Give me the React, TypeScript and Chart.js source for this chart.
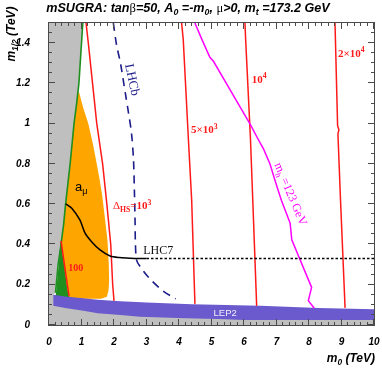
import React, { useEffect, useRef } from 'react';
import { Chart, registerables } from 'chart.js';

Chart.register(...registerables);

// ---------- axis tick labels ----------
const xTickLabels = ['0', '1', '2', '3', '4', '5', '6', '7', '8', '9', '10'];
const yTickLabels = ['0', '0.2', '0.4', '0.6', '0.8', '1', '1.2', '1.4'];

// ---------- regions (m0 in TeV, m1/2 in TeV) ----------
// boundary of the theoretically excluded (gray) region / green strip
const lspBoundaryM0 = [0.2, 0.28, 0.37, 0.45, 0.51, 0.58, 0.65, 0.71, 0.77, 0.85, 0.92, 0.98, 1.04];
const lspBoundaryM12 = [0.16, 0.3, 0.4, 0.5, 0.6, 0.7, 0.8, 0.9, 1.0, 1.1, 1.2, 1.35, 1.5];
// lower gray strip (below LEP2 band)
const grayBottomM0 = [0, 10, 10, 8, 6, 5.2, 4.2, 2.8, 2.2, 1.5, 1.06, 0.5, 0.13, 0.13];
const grayBottomM12 = [0, 0, 0.035, 0.035, 0.035, 0.04, 0.043, 0.05, 0.06, 0.068, 0.08, 0.095, 0.1, 0.15];
// LEP2 excluded band
const lep2M0 = [0.13, 0.5, 1.06, 1.5, 2.2, 3.0, 4.4, 6.5, 8.3, 10, 10, 6.0, 5.2, 4.2, 2.8, 2.2, 1.5, 1.06, 0.5, 0.13];
const lep2M12 = [0.15, 0.142, 0.133, 0.126, 0.118, 0.112, 0.103, 0.095, 0.085, 0.078, 0.025, 0.025, 0.03, 0.033, 0.041, 0.05, 0.058, 0.071, 0.085, 0.095];
// a_mu favoured region (orange)
const amuM0 = [0.92, 1.05, 1.21, 1.35, 1.47, 1.56, 1.64, 1.72, 1.8, 1.84, 1.85, 1.83, 1.78, 1.6, 0.6, 0.3, 0.5, 0.7, 0.92];
const amuM12 = [1.16, 1.08, 1.0, 0.9, 0.8, 0.72, 0.64, 0.53, 0.42, 0.3, 0.22, 0.17, 0.14, 0.13, 0.13, 0.4, 0.8, 1.1, 1.16];
// green wedge
const greenM0 = [0.36, 0.42, 0.5, 0.57, 0.63, 0.2, 0.25, 0.3, 0.36];
const greenM12 = [0.42, 0.35, 0.25, 0.17, 0.135, 0.135, 0.22, 0.3, 0.42];

// ---------- contours ----------
const dhs100M0 = [0.37, 0.49, 0.615];
const dhs100M12 = [0.418, 0.282, 0.144];
const dhs1kM0 = [1.14, 1.21, 1.34, 1.47, 1.65, 1.78, 1.9, 1.96, 2.0];
const dhs1kM12 = [1.5, 1.4, 1.2, 1.0, 0.8, 0.6, 0.4, 0.2, 0.12];
const dhs5kM0 = [4.08, 4.13, 4.29, 4.39, 4.49];
const dhs5kM12 = [1.5, 1.42, 0.92, 0.62, 0.105];
const dhs10kM0 = [6.03, 6.05, 6.2, 6.27, 6.39];
const dhs10kM12 = [1.5, 1.42, 0.92, 0.62, 0.095];
const dhs20kM0 = [8.8, 8.88, 8.92, 8.89, 8.97, 9.11];
const dhs20kM12 = [1.5, 0.99, 0.97, 0.95, 0.62, 0.085];

const mhM0 = [4.49, 4.7, 4.95, 5.06, 5.6, 6.18, 6.41, 6.6, 6.8, 6.95, 7.15, 7.42, 7.47, 8.08, 7.98, 8.16];
const mhM12 = [1.5, 1.42, 1.33, 1.31, 1.16, 1.0, 0.93, 0.875, 0.8, 0.72, 0.62, 0.506, 0.423, 0.187, 0.121, 0.083];

const lhcbM0 = [1.98, 2.08, 2.2, 2.35, 2.44, 2.54, 2.6, 2.63, 2.65, 2.66, 2.7, 2.85, 3.1, 3.5, 3.9];
const lhcbM12 = [1.5, 1.39, 1.3, 1.15, 1.06, 0.95, 0.82, 0.65, 0.5, 0.4, 0.32, 0.28, 0.23, 0.17, 0.13];

const lhc7M0 = [0.51, 0.7, 0.95, 1.11, 1.31, 1.57, 1.88, 2.18, 2.5, 3.0];
const lhc7M12 = [0.602, 0.58, 0.522, 0.456, 0.414, 0.373, 0.343, 0.335, 0.332, 0.33];
const lhc7ExtM0 = [3.0, 10];
const lhc7ExtM12 = [0.33, 0.33];

const SANS = '"Liberation Sans", Arial, sans-serif';
const SERIF = '"Liberation Serif", "Times New Roman", serif';

type Seg = { t: string; sub?: boolean; sup?: boolean; italic?: boolean; weight?: string; family?: string };
type RichOpts = { size: number; family: string; weight: string; italic: boolean; align: 'left' | 'center' | 'right'; color: string };

function fontFor(s: Seg, o: RichOpts) {
  const size = s.sub || s.sup ? o.size * 0.7 : o.size;
  const it = s.italic !== undefined ? s.italic : o.italic;
  const w = s.weight || o.weight;
  const fam = s.family || o.family;
  return `${it ? 'italic ' : ''}${w} ${size}px ${fam}`;
}

function drawRich(ctx: CanvasRenderingContext2D, segs: Seg[], x: number, y: number, o: RichOpts) {
  ctx.textBaseline = 'alphabetic';
  ctx.textAlign = 'left';
  ctx.fillStyle = o.color;
  let total = 0;
  const ws = segs.map((s) => {
    ctx.font = fontFor(s, o);
    const w = ctx.measureText(s.t).width;
    total += w;
    return w;
  });
  let cx = o.align === 'center' ? x - total / 2 : o.align === 'right' ? x - total : x;
  segs.forEach((s, i) => {
    ctx.font = fontFor(s, o);
    const dy = s.sub ? o.size * 0.25 : s.sup ? -o.size * 0.4 : 0;
    ctx.fillText(s.t, cx, y + dy);
    cx += ws[i];
  });
}

type Note = { segs: Seg[]; m0: number; m12: number; opts: RichOpts; angle?: number };

const redOpts = (size: number): RichOpts => ({ size, family: SERIF, weight: 'bold', italic: false, align: 'left', color: '#ff1a1a' });

const notes: Note[] = [
  { segs: [{ t: 'a' }, { t: 'μ', sub: true }], m0: 0.8, m12: 0.667, opts: { size: 13, family: SANS, weight: 'normal', italic: false, align: 'left', color: '#000' } },
  { segs: [{ t: 'Δ', weight: 'normal' }, { t: 'HS', sub: true }, { t: '=10' }, { t: '3', sup: true }], m0: 1.97, m12: 0.575, opts: redOpts(11) },
  { segs: [{ t: '100' }], m0: 0.59, m12: 0.269, opts: redOpts(10) },
  { segs: [{ t: '5×10' }, { t: '3', sup: true }], m0: 4.37, m12: 0.954, opts: redOpts(11) },
  { segs: [{ t: '10' }, { t: '4', sup: true }], m0: 6.24, m12: 1.204, opts: redOpts(11) },
  { segs: [{ t: '2×10' }, { t: '4', sup: true }], m0: 8.89, m12: 1.333, opts: redOpts(11) },
  { segs: [{ t: 'LHC7' }], m0: 2.9, m12: 0.353, opts: { size: 12, family: SERIF, weight: 'normal', italic: false, align: 'left', color: '#111' } },
  { segs: [{ t: 'LEP2' }], m0: 5.42, m12: 0.062, opts: { size: 9.5, family: SANS, weight: 'normal', italic: false, align: 'center', color: '#eeeeff' } },
  { segs: [{ t: 'LHCb' }], m0: 2.58, m12: 1.219, angle: 78, opts: { size: 13, family: SERIF, weight: 'normal', italic: false, align: 'center', color: '#1c1c8a' } },
  { segs: [{ t: 'm' }, { t: 'h', sub: true }, { t: ' =123 GeV' }], m0: 7.45, m12: 0.652, angle: 67, opts: { size: 12, family: SERIF, weight: 'normal', italic: false, align: 'center', color: '#ff00ff' } },
];

const overlay = {
  id: 'overlay',
  afterDraw(chart: any) {
    const ctx: CanvasRenderingContext2D = chart.ctx;
    const { left, right, top, bottom } = chart.chartArea;
    const xs = chart.scales.x;
    const ys = chart.scales.y;
    ctx.save();

    // annotations inside the plot
    notes.forEach((n) => {
      const px = xs.getPixelForValue(n.m0);
      const py = ys.getPixelForValue(n.m12);
      if (n.angle) {
        ctx.save();
        ctx.translate(px, py);
        ctx.rotate((n.angle * Math.PI) / 180);
        drawRich(ctx, n.segs, 0, n.opts.size * 0.35, n.opts);
        ctx.restore();
      } else if (n.opts.align === 'center') {
        drawRich(ctx, n.segs, px, py + n.opts.size * 0.35, n.opts);
      } else {
        drawRich(ctx, n.segs, px, py, n.opts);
      }
    });

    // frame
    ctx.strokeStyle = '#4a4a4a';
    ctx.lineWidth = 1;
    ctx.strokeRect(left - 0.5, top - 0.5, right - left + 1, bottom - top + 1);

    // ticks (inward, all four sides)
    ctx.beginPath();
    for (let i = 0; i <= 50; i++) {
      const v = i * 0.2;
      const p = Math.round(xs.getPixelForValue(v)) - 0.5;
      const len = i % 5 === 0 ? 6 : 3;
      ctx.moveTo(p, bottom);
      ctx.lineTo(p, bottom - len);
      ctx.moveTo(p, top);
      ctx.lineTo(p, top + len);
    }
    for (let i = 0; i <= 30; i++) {
      const v = i * 0.05;
      const p = Math.round(ys.getPixelForValue(v)) - 0.5;
      const len = i % 4 === 0 ? 6 : 3;
      ctx.moveTo(left, p);
      ctx.lineTo(left + len, p);
      ctx.moveTo(right, p);
      ctx.lineTo(right - len, p);
    }
    ctx.stroke();

    // title
    const tOpts: RichOpts = { size: 12.6, family: SANS, weight: 'bold', italic: true, align: 'center', color: '#000' };
    drawRich(
      ctx,
      [
        { t: 'mSUGRA: tan' },
        { t: 'β', italic: false, weight: 'normal', family: SERIF },
        { t: '=50, A' },
        { t: '0', sub: true },
        { t: ' =-m' },
        { t: '0', sub: true },
        { t: ', ' },
        { t: 'μ', italic: false, weight: 'normal', family: SERIF },
        { t: '>0, m' },
        { t: 't', sub: true },
        { t: ' =173.2 GeV' },
      ],
      188,
      12,
      tOpts
    );

    const aOpts: RichOpts = { ...tOpts, size: 12 };
    // x axis title
    drawRich(ctx, [{ t: 'm' }, { t: '0', sub: true }, { t: ' (TeV)' }], 375, 362, { ...aOpts, align: 'right' });

    // y axis title
    ctx.save();
    ctx.translate(15, 34);
    ctx.rotate(-Math.PI / 2);
    drawRich(ctx, [{ t: 'm' }, { t: '1/2', sub: true }, { t: ' (TeV)' }], 0, 0, { ...aOpts, align: 'center' });
    ctx.restore();

    ctx.restore();
  },
};

function pts(xs: number[], ys: number[]) {
  return xs.map((x, i) => ({ x, y: ys[i] }));
}

export default function App() {
  const ref = useRef<HTMLCanvasElement | null>(null);
  useEffect(() => {
    if (!ref.current) return;
    const area = (data: any, color: string, order: number) => ({
      data,
      fill: 'shape',
      backgroundColor: color,
      borderWidth: 0,
      borderColor: color,
      pointRadius: 0,
      order,
    });
    const line = (data: any, color: string, width: number, order: number, dash: number[] = [], tension = 0) => ({
      data,
      fill: false,
      borderColor: color,
      borderWidth: width,
      borderDash: dash,
      pointRadius: 0,
      tension,
      order,
    });
    const grayPoly = pts(
      [...grayBottomM0, ...lspBoundaryM0, 0],
      [...grayBottomM12, ...lspBoundaryM12, 1.5]
    );
    const chart = new Chart(ref.current, {
      type: 'line',
      data: {
        datasets: [
          area(pts(amuM0, amuM12), '#ffa500', 20),
          area(grayPoly, '#bfbfbf', 19),
          area(pts(greenM0, greenM12), '#1f8f1f', 18),
          line(pts(lspBoundaryM0, lspBoundaryM12), '#1f8f1f', 1.6, 17),
          area(pts(lep2M0, lep2M12), '#6a5acd', 16),
          line(pts(dhs100M0, dhs100M12), '#ff1a1a', 1.5, 5),
          line(pts(dhs1kM0, dhs1kM12), '#ff1a1a', 1.5, 5),
          line(pts(dhs5kM0, dhs5kM12), '#ff1a1a', 1.5, 5),
          line(pts(dhs10kM0, dhs10kM12), '#ff1a1a', 1.5, 5),
          line(pts(dhs20kM0, dhs20kM12), '#ff1a1a', 1.5, 5),
          line(pts(mhM0, mhM12), '#ff00ff', 1.5, 4),
          line(pts(lhcbM0, lhcbM12), '#1c1c8a', 1.6, 3, [8, 6], 0.3),
          line(pts(lhc7M0, lhc7M12), '#000000', 1.5, 2, [], 0.3),
          line(pts(lhc7ExtM0, lhc7ExtM12), '#000000', 1.5, 2, [2.5, 2]),
        ] as any,
      },
      options: {
        animation: false,
        responsive: false,
        maintainAspectRatio: false,
        devicePixelRatio: 1,
        layout: { padding: { top: 23, right: 8, left: 0, bottom: 0 } },
        plugins: { legend: { display: false }, tooltip: { enabled: false }, title: { display: false } },
        scales: {
          x: {
            type: 'linear',
            min: 0,
            max: 10,
            grid: { display: false },
            border: { display: false },
            afterBuildTicks: (s: any) => {
              s.ticks = xTickLabels.map((l) => ({ value: parseFloat(l) }));
            },
            afterFit: (s: any) => {
              s.height = 43;
              s.paddingLeft = 0;
              s.paddingRight = 0;
            },
            ticks: {
              padding: 3,
              color: '#000',
              maxRotation: 0,
              font: { family: SANS, size: 10, style: 'italic', weight: 'bold' },
              callback: (v: any) => xTickLabels.find((l) => parseFloat(l) === v) ?? '',
            },
          },
          y: {
            type: 'linear',
            min: 0,
            max: 1.5,
            grid: { display: false },
            border: { display: false },
            afterBuildTicks: (s: any) => {
              s.ticks = yTickLabels.map((l) => ({ value: parseFloat(l) }));
            },
            afterFit: (s: any) => {
              s.width = 49;
              s.paddingTop = 0;
              s.paddingBottom = 0;
            },
            ticks: {
              padding: 11,
              color: '#000',
              font: { family: SANS, size: 10, style: 'italic', weight: 'bold' },
              callback: (v: any) => yTickLabels.find((l) => parseFloat(l) === v) ?? '',
            },
          },
        },
      } as any,
      plugins: [overlay],
    });
    return () => chart.destroy();
  }, []);

  return (
    <canvas
      ref={ref}
      width={382}
      height={368}
      style={{ position: 'fixed', left: 0, top: 0, width: 382, height: 368, background: '#fff' }}
    />
  );
}
